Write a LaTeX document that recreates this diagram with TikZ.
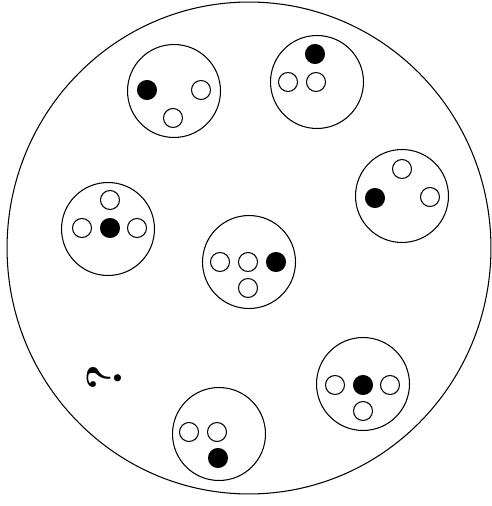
\documentclass[tikz,border=0pt]{standalone}
\usetikzlibrary{shapes.geometric}
\begin{document}
\begin{tikzpicture}[
        x=0.02cm, y=-0.02cm,
        ring/.style={
            draw,
            ellipse,
            line width=0.6pt,
            minimum width=9.68cm,
            minimum height=9.84cm,
            inner sep=0pt
        },
        plate/.style={
            draw,
            circle,
            line width=0.6pt,
            minimum size=1.86cm,
            inner sep=0pt
        },
        hole/.style={
            draw,
            circle,
            line width=0.6pt,
            minimum size=0.38cm,
            inner sep=0pt
        },
        pin/.style={hole, fill=black}
    ]
        \useasboundingbox (0,0) rectangle (491,506);

        % Moldura externa
        \node[ring] (frame) at (249,248) {};

        % Disco 1 (superior esquerdo)
        \node[plate] (p1) at (174,91) {};
        \node[pin] (p1a) at (147,90) {};
        \node[hole] (p1b) at (201,90) {};
        \node[hole] (p1c) at (173,118) {};

        % Disco 2 (superior direito)
        \node[plate] (p2) at (317,82) {};
        \node[pin] (p2a) at (315,54) {};
        \node[hole] (p2b) at (288,82) {};
        \node[hole] (p2c) at (316,82) {};

        % Disco 3 (direita)
        \node[plate] (p3) at (402,196) {};
        \node[pin] (p3a) at (375,198) {};
        \node[hole] (p3b) at (402,169) {};
        \node[hole] (p3c) at (430,197) {};

        % Disco 4 (esquerda)
        \node[plate] (p4) at (108,229) {};
        \node[pin] (p4a) at (110,228) {};
        \node[hole] (p4b) at (82,228) {};
        \node[hole] (p4c) at (137,228) {};
        \node[hole] (p4d) at (110,200) {};

        % Disco 5 (centro)
        \node[plate] (p5) at (249,262) {};
        \node[hole] (p5a) at (220,262) {};
        \node[hole] (p5b) at (248,262) {};
        \node[pin] (p5c) at (276,262) {};
        \node[hole] (p5d) at (248,288) {};

        % Disco 6 (inferior direito)
        \node[plate] (p6) at (363,384) {};
        \node[hole] (p6a) at (335,385) {};
        \node[pin] (p6b) at (363,385) {};
        \node[hole] (p6c) at (390,385) {};
        \node[hole] (p6d) at (363,411) {};

        % Disco 7 (inferior)
        \node[plate] (p7) at (219,434) {};
        \node[hole] (p7a) at (189,432) {};
        \node[hole] (p7b) at (217,432) {};
        \node[pin] (p7c) at (218,458) {};

        % Incógnita
        \node[rotate=90, font=\fontsize{28}{28}\selectfont\bfseries] (ask) at (104,377) {?};
    \end{tikzpicture}
\end{document}
